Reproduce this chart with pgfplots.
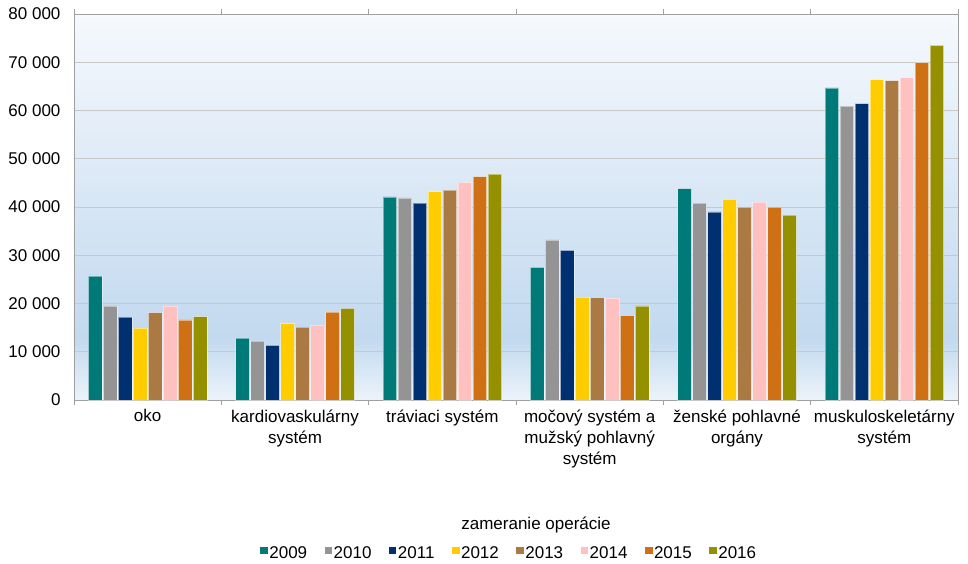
\documentclass[border=0pt]{standalone}
\usepackage{fontspec}
\setmainfont{Liberation Sans}
\usepackage{pgfplots}
\usepackage{pgfplotstable}
\pgfplotsset{compat=1.18}

\definecolor{c2009}{RGB}{0,122,120}
\definecolor{c2010}{RGB}{148,148,148}
\definecolor{c2011}{RGB}{0,48,112}
\definecolor{c2012}{RGB}{255,204,0}
\definecolor{c2013}{RGB}{171,121,66}
\definecolor{c2014}{RGB}{255,192,192}
\definecolor{c2015}{RGB}{208,112,20}
\definecolor{c2016}{RGB}{148,144,0}
\definecolor{axgray}{RGB}{160,160,160}
\definecolor{gridgray}{RGB}{200,200,200}
\definecolor{bgtop}{RGB}{246,249,253}
\definecolor{bgmid}{RGB}{194,217,239}
\definecolor{bgbot}{RGB}{236,243,250}

\pgfdeclareverticalshading{plotbg}{100bp}{color(0bp)=(bgbot); color(25bp)=(bgbot); color(33bp)=(bgmid); color(75bp)=(bgtop); color(100bp)=(bgtop)}

% operations by focus, 2009-2016
\pgfplotstableread{
x  a2009 a2010 a2011 a2012 a2013 a2014 a2015 a2016
0  25700 19500 17200 14900 18100 19500 16600 17300
1  12800 12200 11300 15800 15100 15500 18200 19000
2  42100 41900 40800 43200 43500 45100 46300 46800
3  27500 33200 31000 21300 21200 21100 17500 19500
4  43800 40800 39000 41600 40000 41000 40000 38300
5  64700 60900 61400 66400 66200 66800 69900 73500
}\opdata

\newcommand{\chartfont}{\fontsize{17}{21}\selectfont}

\begin{document}
\begin{tikzpicture}
\begin{axis}[
    name=ax,
    scale only axis,
    width=884pt, height=386pt,
    ybar=1.5pt, bar width=13.5pt,
    every axis plot/.append style={draw=white, draw opacity=0.45, line width=0.6pt},
    xmin=-0.5, xmax=5.5,
    ymin=0, ymax=80000,
    xtick={0,...,5},
    xticklabels={oko, {kardiovaskulárny\\systém}, tráviaci systém,
        {močový systém a\\mužský pohlavný\\systém}, {ženské pohlavné\\orgány},
        {muskuloskeletárny\\systém}},
    minor xtick={-0.5,0.5,...,5.5},
    ytick={0,10000,...,80000},
    major tick length=0pt, minor tick length=5pt,
    tick align=outside,
    minor x tick style={draw=axgray, line width=0.8pt, draw opacity=1},
    scaled y ticks=false,
    /pgf/number format/.cd, assume math mode=true, 1000 sep={\ }, /pgfplots/.cd,
    ymajorgrids,
    grid style={draw=gridgray, line width=0.8pt},
    axis line style={draw=axgray, line width=0.8pt},
    axis background/.style={shading=plotbg},
    tick label style={font=\chartfont},
    xticklabel style={align=center, yshift=-6pt},
    yticklabel style={xshift=-10pt},
    xlabel={zameranie operácie},
    xlabel style={font=\chartfont, at={(axis description cs:0.5,-0.323)}, anchor=center, xshift=20pt},
    legend columns=8,
    legend style={at={(0.5,-0.398)}, anchor=center, xshift=-7pt, draw=none, fill=none,
        font=\chartfont, inner sep=0pt,
        nodes={inner sep=1.5pt},
        /tikz/every even column/.append style={column sep=16pt}},
    legend image code/.code={\fill[#1, draw=none] (0pt,-0.5pt) rectangle (7.5pt,7pt);},
]
\addplot[fill=c2009] table[x=x, y=a2009] {\opdata};
\addplot[fill=c2010] table[x=x, y=a2010] {\opdata};
\addplot[fill=c2011] table[x=x, y=a2011] {\opdata};
\addplot[fill=c2012] table[x=x, y=a2012] {\opdata};
\addplot[fill=c2013] table[x=x, y=a2013] {\opdata};
\addplot[fill=c2014] table[x=x, y=a2014] {\opdata};
\addplot[fill=c2015] table[x=x, y=a2015] {\opdata};
\addplot[fill=c2016] table[x=x, y=a2016] {\opdata};
\legend{2009,2010,2011,2012,2013,2014,2015,2016}
\end{axis}
\pgfresetboundingbox
\path[use as bounding box] ([shift={(-74pt,-163pt)}]ax.south west) rectangle ([shift={(10pt,14pt)}]ax.north east);
\end{tikzpicture}
\end{document}
